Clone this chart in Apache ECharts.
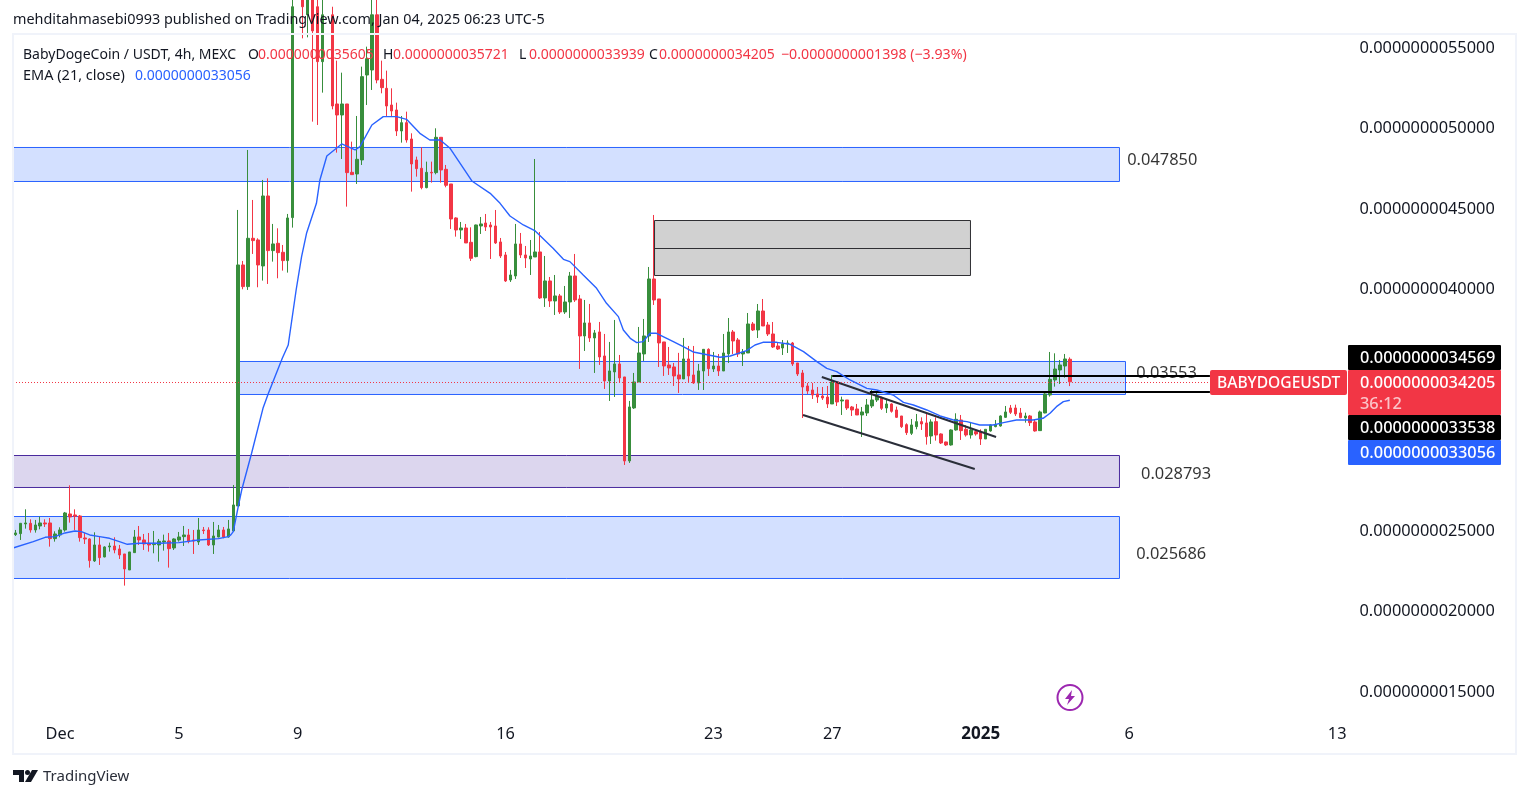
<!DOCTYPE html>
<html>
<head>
<meta charset="utf-8">
<title>BabyDogeCoin / USDT</title>
<script src="https://cdn.jsdelivr.net/npm/echarts@6/dist/echarts.min.js"></script>
<style>
    html, body { margin: 0; padding: 0; background: #fff; }
    #chart { width: 1530px; height: 798px; }
</style>
</head>
<body>
<div id="chart"></div>
<script>
// prices are kept in units of 0.0000000000001 (the axis prints them with the leading zeros)
// each row: open, close, low, high
const ohlc = [
    [24712,24816,24629,25002],[24774,25416,24381,25416],[25375,25437,25085,26285],[25416,25002,24836,25664],
    [25002,25312,24836,25623],[25250,25437,25043,25830],[25437,25375,25188,25664],[25437,24464,23967,25747],
    [24464,24754,24277,24919],[24691,25002,24547,25168],[25002,26058,24899,26120],[25996,25809,25457,27776],
    [25934,25851,25002,26285],[25871,24526,24277,25934],[24505,24443,24133,24836],[24443,23098,22663,24484],
    [23077,24071,23015,24857],[24071,23284,22828,24588],[23325,23946,23305,23988],[23946,24008,23656,24215],
    [24008,23760,23553,24547],[23822,23450,23201,24071],[23512,22580,21545,23512],[22518,23636,22518,23636],
    [23594,24567,23594,25002],[24567,24381,24071,25250],[24381,24133,23760,24754],[24174,24071,23656,24816],
    [24091,24174,23553,24940],[24071,24298,23035,24443],[24257,24319,23719,24712],[24319,23843,22663,24816],
    [23884,24443,23760,24484],[24381,24567,24277,24878],[24588,24691,24008,25250],[24691,24277,24174,25064],
    [24381,24319,23512,25002],[24257,25002,24071,25747],[25002,24961,24754,25188],[25002,24071,24008,25168],
    [24071,24629,23512,25499],[24567,25002,24547,25312],[25002,24567,24484,25188],[24567,25064,24526,25623],
    [24940,26555,24940,27796],[26492,41462,26492,44878],[41462,40117,39951,41711],[40117,43118,39910,48604],
    [43118,42974,42146,45499],[43015,41462,40076,43118],[41400,45747,40490,46741],[45747,42353,40283,46844],
    [42353,42767,41669,44009],[42808,42228,40634,43739],[42249,41732,41110,42704],[41732,44381,40986,44630],
    [44402,57500,43781,59000],[58000,59500,57000,60500],[58500,57500,55538,59500],[57000,58000,55600,59000],
    [58000,56000,50363,58500],[57500,54090,50157,58000],[54090,57000,52164,58000],[57800,56500,56000,58500],
    [57000,51336,51129,57500],[51461,50777,48438,54152],[50777,51461,48045,53406],[51461,47196,45085,51461],
    [47217,47072,47072,49121],[47114,48024,46493,50715],[47983,53158,47673,53779],[53261,54276,51398,55021],
    [53572,57000,52330,58000],[57000,52951,52744,58000],[52992,52475,52123,54152],[52433,51336,50715,53531],
    [51398,51026,50715,52433],[51088,49784,49473,51543],[49784,50301,49059,50715],[50301,49225,49059,50984],
    [49287,47735,46016,49639],[47983,47445,46948,48190],[47466,46265,46161,48770],[46265,47217,46223,47880],
    [47217,47176,46575,47880],[47196,49391,47093,49950],[49391,47362,46575,49391],[47403,46410,46286,47673],
    [46493,44319,43698,46493],[44381,43635,43221,44423],[43635,43759,43076,44132],[43759,42828,42828,44008],
    [42869,41875,41710,43801],[41979,43945,41938,43967],[43883,44008,43387,44442],[44070,43821,43573,44629],
    [43945,43821,41834,44132],[43883,42828,42766,44877],[42890,42020,41896,43138],[42083,40468,40406,42269],
    [40530,40840,40406,41151],[40778,42766,40592,44008],[42766,42083,41896,43449],[42083,41896,41275,42641],
    [41834,42020,40840,43014],[41958,42269,41958,48044],[42269,39412,39350,43511],[39412,40468,38853,42020],
    [40468,39226,38853,40716],[39226,39537,38356,40840],[39537,38543,38419,39661],[38543,39164,38419,40157],
    [39164,40778,38170,41027],[40778,39288,39164,42145],[39350,37052,35003,39599],[37052,37860,36121,39288],
    [37860,36928,36680,39040],[36928,37239,34755,37425],[37301,35748,35251,37922],[35810,34258,33761,37177],
    [34258,34879,33016,36680],[34817,35314,33264,38046],[35314,34444,34134,35872],[34506,29290,29041,34506],
    [29290,32643,29165,33016],[32581,34196,32519,34755],[34196,35997,34196,37611],[35935,37052,35500,38108],
    [37052,40592,36680,41337],[40592,39288,38978,44566],[39350,36618,35127,39350],[36680,35189,34568,36680],
    [35251,35065,34630,36369],[35127,34568,33947,35375],[34630,34382,33513,36002],[34382,35624,34382,36928],
    [35624,34568,34134,36431],[34630,34134,34072,36431],[34134,34879,33699,35314],[34877,36222,33697,36222],
    [36222,35022,34566,36284],[35001,35187,34815,36057],[35187,34877,34566,35933],[34877,35995,34877,37175],
    [35933,37299,35374,38168],[37299,36740,35933,37423],[36802,35933,35746,36926],[35933,36057,35187,36243],
    [35995,37796,35995,38479],[37796,37423,37361,37920],[37423,38603,36926,39038],[38603,37671,37671,39348],
    [37733,37175,37050,37920],[37175,36367,36305,37920],[36429,36243,36181,36678],[36305,36554,35870,36802],
    [36554,36616,35995,36781],[36616,35312,35187,36678],[35374,34691,34566,35374],[34753,33883,31958,34939],
    [33945,33635,33449,34132],[33697,33386,33138,34132],[33449,33262,32890,33883],[33324,33200,33076,33883],
    [33262,32828,32579,33945],[32828,34194,32828,34629],[34194,32952,32703,34194],[33014,33076,32144,33283],
    [33076,32579,32455,33076],[32641,32455,32082,32703],[32517,32144,32144,32828],[32144,32331,30778,32641],
    [32269,32766,32082,33138],[32703,33076,32579,33697],[33076,33324,32952,33593],[33221,32558,32455,33283],
    [32579,32828,32269,33076],[32828,32372,32289,32869],[32455,31999,31958,32662],[32082,31420,31337,32082],
    [31544,31047,30902,31627],[31006,31524,30902,31896],[31420,31731,31254,32207],[31731,31586,31213,31999],
    [31648,30799,30302,32207],[30840,31710,30344,31875],[31731,30902,30551,31999],[30965,30406,30344,31006],
    [30468,30282,30219,30489],[30282,31213,30240,31254],[31213,31875,31172,32248],[31834,31172,30592,32144],
    [31254,30902,30799,31503],[30902,31213,30675,31710],[31110,30965,30861,31254],[31110,30654,30282,31254],
    [30654,31254,30654,31254],[31151,31524,31110,31565],[31420,31524,31379,31834],[31461,32082,31420,32124],
    [31999,32331,31958,32703],[32579,32310,32207,32766],[32579,32207,32082,32786],[32269,31979,31937,32579],
    [31958,32082,31668,32289],[32082,31668,31461,32144],[31710,31151,31110,31834],[31172,32331,31172,32414],
    [32269,33449,32248,33594],[33386,34359,33283,36057],[34318,34999,33904,35974],[34939,35250,34070,35560],
    [35187,35622,34463,35933],[35605,34205,33939,35721]
];
// EMA (21) read at these candle positions
const emaIndex = [-0.5,3.6,6,8,10,12,13.3,15,17,19,21,22.6,25,29,33,37,41,43,43.5,44,45,45.7,47.7,50,51.1,53.9,55.1,56.7,57.8,58.8,60.8,61.5,62.9,65.9,68.6,69.6,72,74.3,77,79,81.7,83.7,85.8,87.8,92.2,95.9,97.9,99.9,102.6,105,108.6,110.7,112,114.7,117.4,119.4,121.8,122.8,124.2,125.5,126.8,128.2,129.5,132.9,134.9,136.9,139,142.3,144.4,147.7,149.4,151,153.8,156.5,159.2,161.9,163.9,165.9,168.6,172,174,177.3,179.4,181.4,184.1,186.8,189.5,192.2,194.8,197.5,199.6,202.2,205.6,207.6,209,210.3,211.7,213];
const emaValues = [23884,24278,24547,24588,24816,24940,24899,24691,24588,24484,24278,24112,24174,24174,24215,24381,24464,24588,24700,24900,26448,27485,29765,32558,33487,35665,36491,39906,41980,43429,45292,46741,48231,48977,48604,48811,50157,50674,50674,50508,49639,49225,49225,48707,46678,45912,45291,44504,43945,43573,42496,41813,41669,40840,40013,39081,38253,37425,36907,36638,36700,37218,37218,36700,36390,36059,35933,35726,35808,36140,36491,36657,36657,36533,36077,35456,35042,34836,34318,33800,33697,33386,32931,32765,32455,32082,31834,31730,31523,31523,31668,31834,31834,31937,32248,32662,32973,33056];

const priceTicks = [55000, 50000, 45000, 40000, 25000, 20000, 15000];
const dateTickIndex = [9, 33, 57, 99, 141, 165, 195, 225, 267];
const dateTickText = ['Dec', '5', '9', '16', '23', '27', '2025', '6', '13'];

// drawn boxes: [left candle, right candle, upper price, lower price]
const blueZones = [[-0.5, 223.03, 48758, 46646], [45.26, 224.25, 35466, 33416], [-0.5, 223.03, 25838, 21988]];
const purpleZones = [[-0.5, 223.03, 29627, 27640]];
const greyZones = [[129.1, 192.93, 44223, 40807]];
const greyMidLine = [[129.1, 42484], [192.93, 42484]];
const trendUpper = [[162.9, 34504], [198.1, 30777]];
const trendLower = [[159.1, 32143], [193.8, 28790]];
const levelHigh = [[165, 34565], [241.3, 34565]];
const levelLow = [[172.6, 33571], [241.3, 33571]];
const lastPriceLine = [[-0.5, 34161], [241.3, 34161]];
const zoneNotes = [[224.6, 47985, '0.047850'], [226.4, 34755, '0.03553'], [227.4, 28482, '0.028793'], [226.4, 23513, '0.025686']];

const axisTags = ['0.0000000034569', '0.0000000034205', '36:12', '0.0000000033538', '0.0000000033056'];

const FONT = '"Noto Sans", sans-serif';
const RED = '#f23645';
const GREEN = '#388e3c';
const BLUE = '#2962ff';
const TEXT = '#131722';

let categories = [];
let startTime = Date.UTC(2024, 10, 29, 12);
for (let i = 0; i < 270; i++) {
    categories.push(new Date(startTime + i * 4 * 3600 * 1000).toISOString().slice(0, 16));
}
let dateLabels = {};
dateTickIndex.forEach(function (idx, k) {
    dateLabels[categories[idx]] = dateTickText[k];
});

function zoneArea(z, fill, border) {
    return [
        { xAxis: z[0], yAxis: z[2], itemStyle: { color: fill, borderColor: border, borderWidth: 1 } },
        { xAxis: z[1], yAxis: z[3] }
    ];
}

function drawnLine(data, color, width, type) {
    return {
        type: 'line', xAxisIndex: 1, data: data, showSymbol: false, silent: true, z: 4,
        lineStyle: { color: color, width: width, type: type || 'solid' }
    };
}

function headerText(x, y, text, fill, size) {
    return { type: 'text', x: x, y: y, z: 20, style: { text: text, fill: fill, font: (size || 14) + 'px ' + FONT, textVerticalAlign: 'middle' } };
}

function tag(y, h, color, text, sub) {
    let items = [
        { type: 'rect', shape: { x: 1348, y: y, width: 153, height: h, r: 1 }, style: { fill: color }, z: 20 },
        { type: 'text', x: 1360, y: y + 13.5, z: 21, style: { text: text, fill: '#fff', font: '500 16.35px ' + FONT, textVerticalAlign: 'middle' } }
    ];
    if (sub) {
        items.push({ type: 'text', x: 1360, y: y + 34, z: 21, style: { text: sub, fill: '#fbc4c9', font: '500 16.35px ' + FONT, textVerticalAlign: 'middle' } });
    }
    return items;
}

let chart = echarts.init(document.getElementById('chart'), null, { renderer: 'canvas' });
chart.setOption({
    animation: false,
    backgroundColor: '#ffffff',
    textStyle: { fontFamily: FONT },
    grid: { left: 13, right: 180.5, top: 35, bottom: 80 },
    xAxis: [
        {
            type: 'category',
            data: categories,
            boundaryGap: true,
            axisLine: { show: false },
            axisTick: { show: false },
            splitLine: { show: false },
            axisLabel: {
                interval: function (index) { return dateTickIndex.indexOf(index) >= 0; },
                formatter: function (value) {
                    let t = dateLabels[value];
                    return t === '2025' ? '{b|2025}' : t;
                },
                rich: { b: { fontFamily: FONT, fontSize: 17, fontWeight: 'bold', color: TEXT } },
                color: TEXT, fontSize: 16.35, fontFamily: FONT, margin: 8
            }
        },
        { type: 'value', min: -0.5, max: 269.5, show: false, splitLine: { show: false } }
    ],
    yAxis: {
        type: 'value',
        position: 'right',
        min: 13323,
        max: 55745,
        axisLine: { show: false },
        axisTick: { show: false },
        splitLine: { show: false },
        axisLabel: {
            customValues: priceTicks,
            formatter: function (v) { return '{p|0.00000000' + v + '}'; },
            rich: { p: { color: TEXT, fontSize: 16.35, fontFamily: FONT, padding: [2, 0, 0, 0] } },
            margin: 10
        }
    },
    series: [
        {
            type: 'line', xAxisIndex: 1, data: [], silent: true, z: 1,
            markArea: {
                silent: true,
                data: blueZones.map(function (z) { return zoneArea(z, '#d3e0ff', BLUE); })
                    .concat(purpleZones.map(function (z) { return zoneArea(z, '#dcd6ee', '#4a2a9e'); }))
                    .concat(greyZones.map(function (z) { return zoneArea(z, '#d1d1d1', '#2f2f33'); }))
            }
        },
        {
            type: 'candlestick',
            data: ohlc,
            barWidth: 3,
            z: 3,
            silent: true,
            itemStyle: { color: GREEN, color0: RED, borderColor: GREEN, borderColor0: RED, borderWidth: 1 }
        },
        {
            type: 'line', xAxisIndex: 1, showSymbol: false, silent: true, z: 5,
            data: emaIndex.map(function (x, k) { return [x, emaValues[k]]; }),
            lineStyle: { color: BLUE, width: 1.4 }
        },
        drawnLine(greyMidLine, '#2f2f33', 1),
        drawnLine(trendUpper, '#2a2e39', 2),
        drawnLine(trendLower, '#2a2e39', 2),
        drawnLine(levelHigh, '#000000', 2),
        drawnLine(levelLow, '#000000', 2),
        drawnLine(lastPriceLine, RED, 1, [1, 2]),
        {
            type: 'scatter', xAxisIndex: 1, symbolSize: 0, silent: true, z: 6,
            data: zoneNotes.map(function (n) { return { value: [n[0], n[1]], text: n[2] }; }),
            label: {
                show: true, position: 'right', distance: 0,
                formatter: function (p) { return p.data.text; },
                color: '#000000', fontSize: 16.4, fontFamily: FONT
            }
        }
    ],
    graphic: [
        { type: 'rect', shape: { x: 13, y: 34, width: 1503, height: 720 }, style: { fill: 'none', stroke: '#f0f3fa', lineWidth: 2 }, z: 19 },
        { type: 'text', x: 13, y: 20, z: 20, style: { text: 'mehditahmasebi0993 published on TradingView.com, Jan 04, 2025 06:23 UTC-5', fill: TEXT, font: '14.4px ' + FONT, textVerticalAlign: 'middle' } },
        headerText(23, 55, 'BabyDogeCoin / USDT, 4h, MEXC', TEXT),
        headerText(248, 55, 'O', TEXT),
        headerText(258, 55, '0.0000000035605', RED),
        headerText(383, 55, 'H', TEXT),
        headerText(393, 55, '0.0000000035721', RED),
        headerText(519, 55, 'L', TEXT),
        headerText(529, 55, '0.0000000033939', RED),
        headerText(649, 55, 'C', TEXT),
        headerText(659, 55, '0.0000000034205', RED),
        headerText(781, 55, '\u22120.0000000001398 (\u22123.93%)', RED, 14.2),
        headerText(23, 76, 'EMA (21, close)', TEXT, 14.5),
        headerText(135, 76, '0.0000000033056', BLUE),
        { type: 'rect', shape: { x: 1210, y: 370, width: 137, height: 25, r: 2 }, style: { fill: RED }, z: 20 },
        { type: 'text', x: 1217, y: 383.5, z: 21, style: { text: 'BABYDOGEUSDT', fill: '#fff', font: '500 15.6px ' + FONT, textVerticalAlign: 'middle' } }
    ].concat(
        tag(345, 25, '#000000', axisTags[0]),
        tag(370, 45, RED, axisTags[1], axisTags[2]),
        tag(415, 25, '#000000', axisTags[3]),
        tag(440, 25, BLUE, axisTags[4]),
        [
            { type: 'circle', shape: { cx: 1070, cy: 697.5, r: 12.5 }, style: { fill: '#fff', stroke: '#9c27b0', lineWidth: 2 }, z: 20 },
            { type: 'polygon', shape: { points: [[1072, 690], [1065, 699], [1069, 699], [1067, 705], [1075, 696], [1071, 696]] }, style: { fill: '#9c27b0' }, z: 21 },
            // TradingView mark
            { type: 'polygon', shape: { points: [[13, 770], [24, 770], [24, 782], [19, 782], [19, 775], [13, 775]] }, style: { fill: TEXT }, z: 20 },
            { type: 'circle', shape: { cx: 27.5, cy: 772.5, r: 2.5 }, style: { fill: TEXT }, z: 20 },
            { type: 'polygon', shape: { points: [[32, 770], [38, 770], [31, 782], [25, 782]] }, style: { fill: TEXT }, z: 20 },
            { type: 'text', x: 43, y: 777, z: 20, style: { text: 'TradingView', fill: '#2a2e39', font: '15px ' + FONT, textVerticalAlign: 'middle' } }
        ]
    )
});
</script>
</body>
</html>
